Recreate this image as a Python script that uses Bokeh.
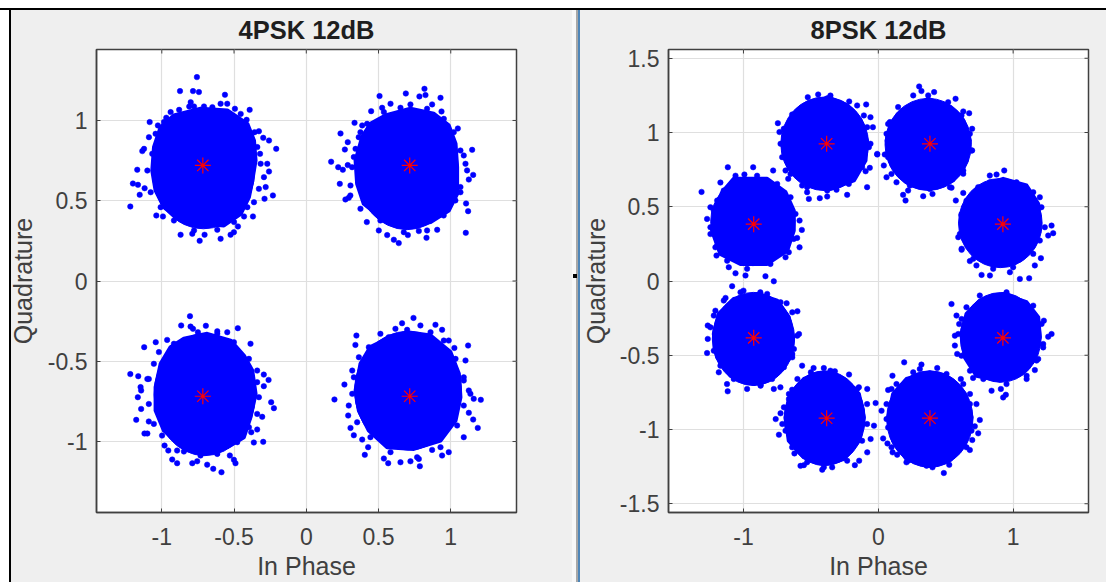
from math import pi
from bokeh.embed import file_html
from bokeh.resources import INLINE
from bokeh.plotting import figure
from bokeh.layouts import row
from bokeh.models import Range1d, FixedTicker, Title, InlineStyleSheet

# --- 4PSK panel: ideal constellation points
psk4_title = "4PSK 12dB"
psk4_ideal_i = [-0.716, 0.716, -0.716, 0.716]
psk4_ideal_q = [0.72, 0.72, -0.718, -0.718]
psk4_xticks = [-1, -0.5, 0, 0.5, 1]
psk4_yticks = [-1, -0.5, 0, 0.5, 1]
psk4_xlabels = ["-1", "-0.5", "0", "0.5", "1"]
psk4_ylabels = ["-1", "-0.5", "0", "0.5", "1"]

# extent of each saturated cloud body: centre, width, height
p4_body_i = [-.712, .698, -.703, .704]
p4_body_q = [.69, .69, -.708, -.683]
p4_body_w = [.71, .71, .70, .74]
p4_body_h = [.73, .74, .76, .74]

# outline of the saturated body
p4ul_core_i = [-.916,-.731,-.547,-.408,-.362,-.351,-.374,-.397,-.454,-.570,-.708,-.870,-.985,-1.043,-1.066,-1.054,-1.008]
p4ul_core_q = [1.031,1.073,1.062,.979,.875,.751,.626,.522,.418,.346,.356,.377,.46,.564,.688,.834,.958]
p4ur_core_i = [.548,.721,.883,.986,1.033,1.044,1.044,.986,.860,.675,.514,.398,.352,.341,.387,.444]
p4ur_core_q = [1.031,1.073,1.042,.969,.855,.709,.543,.439,.367,.335,.398,.481,.605,.751,.896,.979]
p4ll_core_i = [-.847,-.686,-.524,-.432,-.374,-.351,-.386,-.432,-.547,-.708,-.870,-.985,-1.043,-1.043,-1.008,-.939]
p4ll_core_q = [-.360,-.329,-.371,-.464,-.558,-.703,-.848,-.973,-1.035,-1.077,-1.025,-.932,-.807,-.661,-.516,-.412]
p4lr_core_i = [.56,.698,.860,.998,1.056,1.067,1.033,.929,.744,.560,.433,.364,.341,.375,.444]
p4lr_core_q = [-.36,-.319,-.340,-.443,-.578,-.724,-.869,-.994,-1.046,-1.035,-.932,-.807,-.682,-.516,-.412]

# individually visible received symbols round each cloud
p4ul_i = [-.757,-.874,-.784,-.743,-.563,-.593,-.547,-.80,-.777,-.494,-.392,-.939,-.969,-1.084,-1.027,-.328,-.258,-.208,-1.089,-1.123,-1.135,-1.17,-1.20,-1.165,-1.153,-1.218,-1.119,-1.038,-.992,-.870,-.789,-.738,-.704,-.593,-.524,-.501,-.473,-.431,-.369,-.362,-.289,-.231,-.281,-.258,-.316,-.32,
          -.88,-.81,-.708,-.65,-.454,-.413,-.358,-.298,-.339,-.27,-.293,-.328,-.408,-.5,-.616,-.777,-.916,-1.008,-1.077,-1.10,-1.066,-1.043,-.985]
p4ul_q = [1.27,1.183,1.183,1.177,1.16,1.104,1.104,1.114,1.087,1.073,1.066,1.052,1.017,.99,.969,.933,.875,.823,.896,.823,.809,.693,.607,.599,.537,.464,.578,.408,.402,.288,.294,.25,.288,.263,.288,.304,.34,.402,.402,.491,.512,.533,.585,.682,.73,.792,
          1.066,1.087,1.087,1.083,1.041,1.004,.927,.892,.834,.73,.647,.574,.46,.367,.319,.315,.377,.46,.553,.688,.792,.917,.99]
p4ur_i = [.818,.689,.825,.783,.929,.507,.583,.449,.525,.871,.936,.334,.237,.387,.287,.267,1.049,1.148,1.09,.172,.221,.253,.287,.232,1.155,1.113,1.125,.294,.271,1.106,1.12,.419,.502,.56,.64,.606,.703,.832,.906,1.104,.779,.306,.329,.363,1.067,
          .537,.652,.721,.836,.952,1.021,1.067,1.102,1.067,1.032,.951,.836,.675,.513,.375,.305,.317,.341,.375,.421]
p4ur_q = [1.197,1.168,1.158,1.15,1.141,1.152,1.104,1.058,1.079,1.10,1.056,.985,.919,.969,.865,.819,.95,.817,.782,.743,.709,.693,.722,.605,.661,.689,.632,.518,.508,.483,.435,.367,.315,.286,.236,.257,.286,.269,.319,.30,.311,.595,.772,.896,.553,
          1.052,1.079,1.10,1.073,1.01,.927,.813,.73,.585,.502,.408,.315,.304,.377,.45,.533,.709,.823,.927,.979]
p4ll_i = [-.805,-.866,-.801,-.695,-.474,-.616,-.547,-.386,-1.042,-1.122,-.963,-1.218,-1.163,-.294,-.261,-1.10,-1.147,-1.143,-1.166,-.294,-.34,-.243,-.224,-1.143,-1.177,-.305,-1.09,-.34,-1.12,-1.10,-.381,-.298,-.363,-.981,-.955,-.928,-.894,-.847,-.789,-.755,-.686,-.644,-.587,-.490,-.501,-.529,
          -.916,-.784,-.75,-.616,-.501,-.397,-.34,-.328,-.34,-.397,-.478,-.616,-.732,-.894,-.998,-1.055,-1.09,-1.09,-1.055,-1.02]
p4ll_q = [-.219,-.277,-.284,-.279,-.294,-.313,-.319,-.391,-.381,-.412,-.367,-.580,-.593,-.583,-.616,-.610,-.661,-.682,-.724,-.655,-.63,-.755,-.792,-.797,-.865,-.846,-.875,-.925,-.950,-.950,-.942,-1.002,-1.006,-1.025,-1.056,-1.112,-1.135,-1.062,-1.135,-1.123,-1.144,-1.17,-1.191,-1.135,-1.114,-1.087,
          -.391,-.298,-.319,-.329,-.381,-.485,-.558,-.724,-.828,-.911,-1.004,-1.077,-1.087,-1.056,-.963,-.89,-.766,-.61,-.516,-.443]
p4lr_i = [.742,.663,.617,.79,.894,.940,.347,.513,.340,.986,1.120,1.025,1.102,.318,.264,.195,.294,.290,1.09,1.136,1.208,1.159,1.125,1.155,1.187,.306,.329,.387,.428,.405,1.09,.537,.567,.652,.721,.786,.779,.940,.986,.871,
          .513,.571,.698,.86,.952,1.033,1.09,1.125,1.09,1.044,.929,.767,.583,.444,.352,.318,.329,.364,.433]
p4lr_q = [-.230,-.263,-.298,-.277,-.273,-.304,-.340,-.329,-.398,-.371,-.402,-.417,-.495,-.558,-.645,-.738,-.776,-.838,-.620,-.703,-.740,-.734,-.821,-.863,-.915,-.915,-.961,-.988,-1.035,-1.083,-.973,-1.106,-1.135,-1.129,-1.123,-1.154,-1.108,-1.087,-1.066,-1.052,
          -.392,-.35,-.304,-.319,-.371,-.485,-.6,-.682,-.776,-.9,-1.035,-1.098,-1.066,-.973,-.88,-.703,-.6,-.475,-.412]

# --- 8PSK panel
psk8_title = "8PSK 12dB"
psk8_ideal_i = [-0.383, 0.383, 0.924, -0.924, -0.924, -0.383, 0.383, 0.924]
psk8_ideal_q = [0.924, 0.924, 0.383, 0.383, -0.383, -0.924, -0.924, -0.383]
psk8_xticks = [-1, 0, 1]
psk8_yticks = [-1.5, -1, -0.5, 0, 0.5, 1, 1.5]
psk8_xlabels = ["-1", "0", "1"]
psk8_ylabels = ["-1.5", "-1", "-0.5", "0", "0.5", "1", "1.5"]

p8_body_i = [-.398, .37, .905, -.93, -.926, -.398, .382, .908]
p8_body_q = [.924, .92, .39, .40, -.39, -.924, -.93, -.38]
p8_body_w = [.65, .64, .62, .626, .61, .60, .64, .60]
p8_body_h = [.63, .62, .60, .593, .627, .638, .65, .604]

p8a_core_i = [-.577,-.379,-.231,-.132,-.083,-.095,-.181,-.354,-.552,-.664,-.713,-.676]
p8a_core_q = [1.126,1.238,1.182,1.081,.946,.811,.677,.620,.665,.766,.924,1.047]
p8b_core_i = [.184,.370,.531,.630,.679,.654,.555,.382,.209,.098,.061,.098]
p8b_core_q = [1.126,1.227,1.171,1.081,.946,.811,.677,.620,.665,.778,.946,1.058]
p8c_core_i = [.753,.926,1.099,1.186,1.198,1.161,1.05,.877,.728,.63,.617,.667]
p8c_core_q = [.632,.688,.643,.519,.385,.25,.138,.115,.160,.295,.429,.553]
p8d_core_i = [-1.072,-.824,-.688,-.627,-.627,-.676,-.824,-1.022,-1.171,-1.233,-1.208,-1.158]
p8d_core_q = [.688,.688,.598,.474,.34,.205,.115,.115,.182,.34,.497,.598]
p8e_core_i = [-1.072,-.899,-.75,-.664,-.632,-.651,-.75,-.923,-1.096,-1.195,-1.22,-1.183]
p8e_core_q = [-.121,-.087,-.132,-.244,-.379,-.514,-.626,-.694,-.638,-.514,-.357,-.222]
p8f_core_i = [-.552,-.404,-.256,-.144,-.107,-.144,-.256,-.404,-.552,-.664,-.688,-.651]
p8f_core_q = [-.66,-.615,-.66,-.761,-.918,-1.076,-1.199,-1.233,-1.188,-1.076,-.918,-.761]
p8g_core_i = [.209,.382,.531,.642,.692,.642,.531,.382,.209,.11,.073,.11]
p8g_core_q = [-.66,-.615,-.66,-.761,-.918,-1.076,-1.188,-1.244,-1.199,-1.076,-.918,-.761]
p8h_core_i = [.753,.926,1.099,1.186,1.198,1.149,1.05,.901,.728,.642,.617,.654]
p8h_core_q = [-.132,-.087,-.143,-.244,-.379,-.525,-.626,-.671,-.638,-.514,-.357,-.222]

p8a_i = [-.523,-.446,-.216,-.09,-.058,-.745,-.04,-.733,-.058,-.008,-.063,-.688,-.094,-.668,-.083,-.565,-.515,-.434,-.379,-.231,-.528,-.310,
         -.639,-.577,-.478,-.355,-.157,-.107,-.083,-.07,-.12,-.219,-.379,-.528,-.651,-.713,-.725,-.701]
p8a_q = [1.238,1.256,1.209,1.189,1.103,1.063,1.036,1.003,.924,.856,.762,.744,.739,.688,.632,.643,.553,.558,.569,.580,.598,.614,
         1.121,1.152,1.204,1.249,1.182,1.115,1.036,.901,.766,.654,.609,.632,.721,.834,.924,1.025]
p8b_i = [.303,.320,.259,.414,.573,.630,.674,.147,.696,.073,.696,-.008,.048,.041,.061,.135,.165,.630,.184,.202,.221,.333,.402,.543,.147,
         .147,.234,.37,.518,.617,.679,.691,.63,.531,.382,.234,.098,.073,.061,.086]
p8b_q = [1.31,1.279,1.25,1.272,1.227,1.142,1.130,1.171,1.025,1.058,.879,.852,.852,.778,.699,.665,.721,.722,.58,.542,.609,.571,.586,.628,.767,
         1.115,1.171,1.25,1.204,1.115,.991,.879,.744,.632,.62,.643,.721,.834,.991,1.07]
p8c_i = [.934,.877,.827,1.198,.63,.575,.617,1.285,1.297,1.26,.593,.618,1.206,1.161,.679,.728,.766,.828,1.05,1.119,.976,
         .741,.827,1.025,1.149,1.21,1.235,1.198,1.149,1.0,.852,.704,.618,.605,.617,.654]
p8c_q = [.744,.717,.710,.564,.593,.542,.441,.373,.322,.306,.295,.21,.154,.105,.134,.105,.041,.037,.014,.018,.059,
         .632,.665,.665,.598,.497,.362,.272,.183,.093,.082,.149,.217,.317,.45,.54]
p8d_i = [-1.116,-.928,-.78,-.993,-1.311,-1.171,-1.245,-1.27,-.584,-.567,-.602,-.584,-1.245,-1.2,-1.109,-1.059,-.985,-.837,-.775,-1.084,-1.195,-.688,
         -1.146,-1.059,-.899,-.75,-.651,-.614,-.627,-.664,-.8,-.973,-1.121,-1.208,-1.245,-1.22,-1.195]
p8d_q = [.766,.766,.744,.717,.60,.663,.497,.418,.407,.344,.29,.227,.316,.171,.093,.052,.037,.032,-.002,-.035,.239,.16,
         .609,.709,.709,.654,.564,.452,.283,.194,.115,.082,.137,.227,.362,.474,.542]
p8e_i = [-1.133,-1.0,-.875,-.68,-.6,-1.22,-1.265,-1.265,-1.27,-.588,-.626,-1.183,-1.122,-1.117,-.973,-.775,-.726,-.788,-.873,-.638,
         -1.146,-1.022,-.824,-.725,-.638,-.601,-.638,-.7,-.873,-1.072,-1.171,-1.22,-1.245,-1.208]
p8e_q = [-.114,-.065,-.076,-.15,-.204,-.233,-.3,-.39,-.485,-.357,-.458,-.615,-.694,-.743,-.727,-.727,-.716,-.66,-.7,-.514,
         -.132,-.076,-.087,-.143,-.211,-.368,-.492,-.581,-.705,-.66,-.57,-.469,-.312,-.2]
p8f_i = [-.565,-.48,-.404,-.217,-.322,-.144,-.082,-.02,-.639,-.663,-.725,-.761,-.712,-.737,-.032,-.057,-.082,-.622,-.552,-.577,-.416,-.342,-.174,-.142,
         -.6,-.5,-.355,-.157,-.083,-.083,-.12,-.231,-.404,-.528,-.639,-.688,-.7,-.663]
p8f_q = [-.57,-.586,-.586,-.63,-.608,-.716,-.727,-.822,-.732,-.795,-.891,-.93,-.963,-1.035,-.974,-1.064,-1.154,-1.161,-1.24,-1.245,-1.271,-1.255,-1.24,-1.21,
         -.66,-.615,-.604,-.727,-.829,-.963,-1.076,-1.21,-1.255,-1.221,-1.12,-1.008,-.851,-.761]
p8g_i = [.192,.32,.105,.437,.612,.259,.073,.68,.728,.024,.061,.753,.716,.741,.036,.068,.697,.679,.106,.14,.221,.402,.526,.486,
         .135,.308,.506,.63,.679,.691,.654,.531,.358,.209,.098,.073,.061,.098]
p8g_q = [-.548,-.563,-.638,-.586,-.66,-.615,-.734,-.761,-.829,-.874,-.93,-.936,-.979,-1.026,-1.06,-1.094,-1.071,-1.138,-1.154,-1.17,-1.21,-1.255,-1.238,-1.293,
         -.694,-.593,-.626,-.694,-.829,-1.008,-1.12,-1.199,-1.244,-1.221,-1.12,-.986,-.829,-.727]
p8h_i = [.543,.58,.6,1.228,1.285,1.26,.568,.568,.585,1.223,1.186,1.161,1.1,.84,.909,.946,.926,.703,
         .654,.753,.951,1.149,1.211,1.223,1.174,1.1,.951,.779,.68,.617,.593,.618]
p8h_q = [-.155,-.233,-.29,-.267,-.357,-.375,-.368,-.435,-.491,-.447,-.525,-.6,-.66,-.739,-.727,-.766,-.784,-.653,
         -.177,-.098,-.076,-.166,-.289,-.424,-.536,-.638,-.694,-.66,-.604,-.503,-.357,-.256]

x_label = "In Phase"
y_label = "Quadrature"

BLUE = "#0000ff"
RED = "#ff0000"
PANEL = "#efefef"
INK = "#404040"
FONT = "Liberation Sans"


def layer(color, x, y, w, h):
    return f"linear-gradient({color},{color}) {x} {y}/{w} {h} no-repeat"


def chrome(*layers):
    css = (":host::after{content:'';position:absolute;left:0;top:0;right:0;bottom:0;"
           "pointer-events:none;z-index:5;background:" + ",".join(layers) + ";}")
    return InlineStyleSheet(css=css)


def panel(title, w, h, bl, br, xr, yr, xticks, xlabels, yticks, ylabels, body, cores, clouds, ideal, ylabel_gap):
    p = figure(width=w, height=h, output_backend="svg", toolbar_location=None,
               x_range=Range1d(*xr), y_range=Range1d(*yr),
               min_border_left=bl, min_border_right=br, min_border_top=49, min_border_bottom=70,
               background_fill_color="white", border_fill_color=PANEL,
               outline_line_color=INK, outline_line_width=1.5)
    p.title = Title(text=title, align="center", text_font=FONT, text_font_size="25.5px",
                    text_font_style="bold", text_color="#1e1e1e", standoff=11, offset=0)
    for a, tk, lb in ((p.xaxis[0], xticks, xlabels), (p.yaxis[0], yticks, ylabels)):
        a.ticker = FixedTicker(ticks=tk)
        a.major_label_overrides = {t: s for t, s in zip(tk, lb)}
        a.major_label_text_font = FONT
        a.major_label_text_font_size = "23px"
        a.major_label_text_color = INK
        a.major_tick_in = 4
        a.major_tick_out = 0
        a.minor_tick_line_color = None
        a.axis_line_color = INK
        a.axis_line_width = 1.5
        a.major_tick_line_color = INK
        a.axis_label_text_font = FONT
        a.axis_label_text_font_size = "25px"
        a.axis_label_text_font_style = "normal"
        a.axis_label_text_color = INK
    p.xaxis[0].axis_label = x_label
    p.yaxis[0].axis_label = y_label
    p.xaxis[0].major_label_standoff = 15
    p.yaxis[0].major_label_standoff = 9
    p.xaxis[0].axis_label_standoff = 4
    p.yaxis[0].axis_label_standoff = ylabel_gap
    p.xgrid.ticker = FixedTicker(ticks=xticks)
    p.ygrid.ticker = FixedTicker(ticks=yticks)
    p.grid.grid_line_color = "#dfdfdf"
    p.grid.grid_line_width = 1.2
    # tick marks of the top and right sides of the box (half clipped by the frame)
    p.scatter([xr[1]] * len(yticks), yticks, marker="dash", size=8, line_color=INK, line_width=1)
    p.scatter(xticks, [yr[1]] * len(xticks), marker="dash", size=8, angle=pi / 2, line_color=INK, line_width=1)
    p.ellipse(body[0], body[1], width=body[2], height=body[3], fill_color=BLUE, line_color=BLUE)
    for ci, cq in cores:
        p.patch(ci, cq, fill_color=BLUE, line_color=BLUE, line_width=4, line_join="round")
    for ci, cq in clouds:
        p.scatter(ci, cq, marker="circle", size=5.5, fill_color=BLUE, line_color=BLUE, line_width=0.5)
    p.scatter(ideal[0], ideal[1], marker="asterisk", size=16, line_color=RED, line_width=1.2)
    return p


p1 = panel(psk4_title, 578, 582, 96, 62, (-1.452, 1.455), (-1.442, 1.442),
           psk4_xticks, psk4_xlabels, psk4_yticks, psk4_ylabels,
           (p4_body_i, p4_body_q, p4_body_w, p4_body_h),
           [(p4ul_core_i, p4ul_core_q), (p4ur_core_i, p4ur_core_q), (p4ll_core_i, p4ll_core_q), (p4lr_core_i, p4lr_core_q)],
           [(p4ul_i, p4ul_q), (p4ur_i, p4ur_q), (p4ll_i, p4ll_q), (p4lr_i, p4lr_q)],
           (psk4_ideal_i, psk4_ideal_q), 8)
p2 = panel(psk8_title, 528, 582, 90, 18, (-1.556, 1.559), (-1.559, 1.559),
           psk8_xticks, psk8_xlabels, psk8_yticks, psk8_ylabels,
           (p8_body_i, p8_body_q, p8_body_w, p8_body_h),
           [(p8a_core_i, p8a_core_q), (p8b_core_i, p8b_core_q), (p8c_core_i, p8c_core_q), (p8d_core_i, p8d_core_q),
            (p8e_core_i, p8e_core_q), (p8f_core_i, p8f_core_q), (p8g_core_i, p8g_core_q), (p8h_core_i, p8h_core_q)],
           [(p8a_i, p8a_q), (p8b_i, p8b_q), (p8c_i, p8c_q), (p8d_i, p8d_q),
            (p8e_i, p8e_q), (p8f_i, p8f_q), (p8g_i, p8g_q), (p8h_i, p8h_q)],
           (psk8_ideal_i, psk8_ideal_q), 7)

# window frame of the screenshot: white page edge, black window border, splitter
p1.stylesheets = [chrome(
    layer("#000", "573px", "274px", "4px", "4px"),
    layer("#000", "0", "8px", "100%", "2px"),
    layer("#000", "9px", "8px", "2px", "100%"),
    layer("#fff", "0", "0", "100%", "8px"),
    layer("#fff", "0", "0", "9px", "100%"),
    layer("#a8a8a8", "576px", "10px", "2px", "100%"),
    layer("#f8f8f8", "572px", "10px", "4px", "100%"),
)]
p2.stylesheets = [chrome(
    layer("#000", "0", "8px", "100%", "2px"),
    layer("#fff", "0", "0", "100%", "8px"),
    layer("#4f86b8", "0", "10px", "2px", "100%"),
)]

root = row(p1, p2, spacing=0)
root.styles = {"position": "absolute", "left": "0px", "top": "0px"}

open("out.html", "w").write(file_html(root, INLINE))
